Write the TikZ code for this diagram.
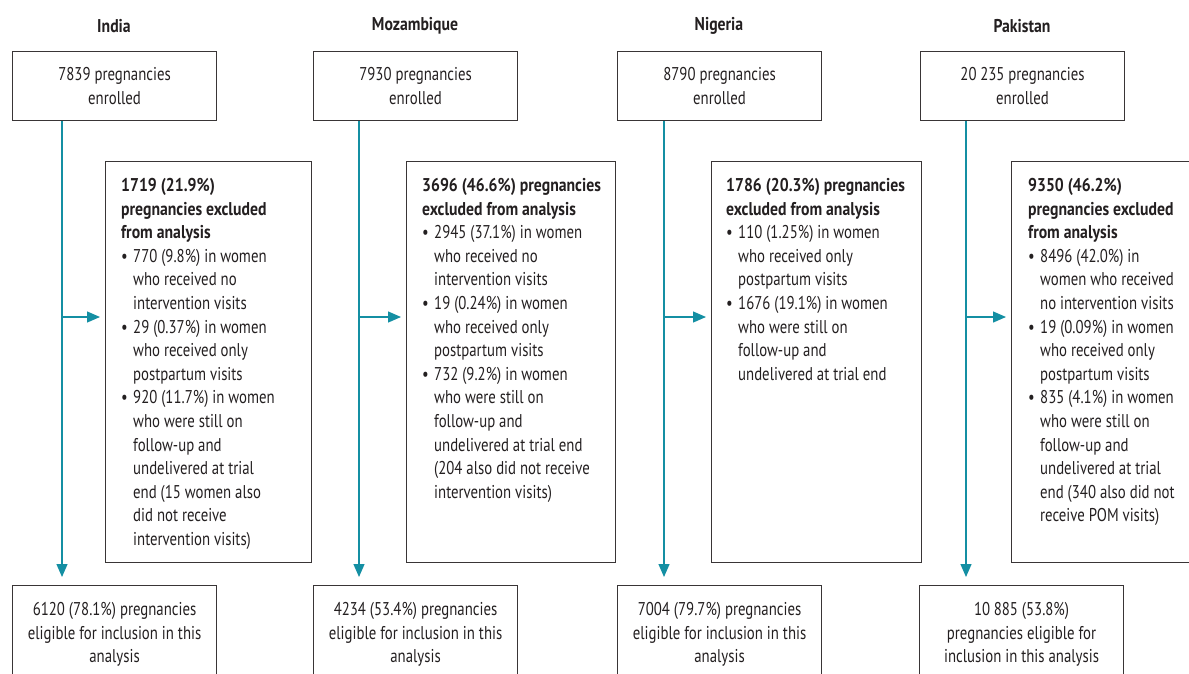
\documentclass[tikz,border=0pt]{standalone}
\usepackage{fontspec}
\setmainfont{PT Sans}[FakeStretch=0.80, BoldFeatures={FakeStretch=0.85}]
\usetikzlibrary{arrows.meta,calc}
\definecolor{teal1}{RGB}{20,143,163}
\definecolor{ink}{RGB}{35,31,32}
\newcommand{\mybul}{\makebox[12pt][l]{\textbullet}}
\newcommand{\myind}{\hspace*{12pt}}
\begin{document}
\begin{tikzpicture}[x=1pt,y=-1pt,
 box/.style={draw=ink!90, line width=1.1pt, inner sep=0pt, anchor=north west, text=ink, align=center, font=\fontsize{18.5}{23.4}\selectfont},
 extxt/.style={font=\fontsize{18.5}{23.6}\selectfont, text=ink, align=left, inner sep=0pt, anchor=north west},
 ttl/.style={font=\fontsize{18.5}{23.6}\selectfont\bfseries, text=ink},
 flow/.style={draw=teal1, line width=1.3pt, -{Triangle[length=13pt,width=11pt]}},
]
\useasboundingbox (0,0) rectangle (1189,673);

% titles
\node[ttl] (h1) at (114,26) {India};
\node[ttl] (h2) at (415,26) {Mozambique};
\node[ttl] (h3) at (719,26) {Nigeria};
\node[ttl] (h4) at (1022,26) {Pakistan};

% top boxes
\node[box, minimum width=204pt, minimum height=69pt] (t1) at (12,51) {7839 pregnancies\\enrolled};
\node[box, minimum width=204pt, minimum height=69pt] (t2) at (313,51) {7930 pregnancies\\enrolled};
\node[box, minimum width=204pt, minimum height=69pt] (t3) at (617,51) {8790 pregnancies\\enrolled};
\node[box, minimum width=204pt, minimum height=69pt] (t4) at (920,51) {20\hspace{0.2em}235 pregnancies\\enrolled};

% exclusion boxes
\node[box, minimum width=206pt, minimum height=401pt] (e1) at (105,161) {};
\node[box, minimum width=209pt, minimum height=401pt] (e2) at (406,161) {};
\node[box, minimum width=210pt, minimum height=401pt] (e3) at (711,161) {};
\node[box, minimum width=210pt, minimum height=401pt] (e4) at (1011,161) {};

\node[extxt] (x1) at (121,178) {\textbf{1719 (21.9\%)}\\
\textbf{pregnancies excluded}\\
\textbf{from analysis}\\
\mybul 770 (9.8\%) in women\\
\myind who received no\\
\myind intervention visits\\
\mybul 29 (0.37\%) in women\\
\myind who received only\\
\myind postpartum visits\\
\mybul 920 (11.7\%) in women\\
\myind who were still on\\
\myind follow-up and\\
\myind undelivered at trial\\
\myind end (15 women also\\
\myind did not receive\\
\myind intervention visits)};

\node[extxt] (x2) at (422,178) {\textbf{3696 (46.6\%) pregnancies}\\
\textbf{excluded from analysis}\\
\mybul 2945 (37.1\%) in women\\
\myind who received no\\
\myind intervention visits\\
\mybul 19 (0.24\%) in women\\
\myind who received only\\
\myind postpartum visits\\
\mybul 732 (9.2\%) in women\\
\myind who were still on\\
\myind follow-up and\\
\myind undelivered at trial end\\
\myind (204 also did not receive\\
\myind intervention visits)};

\node[extxt] (x3) at (726,178) {\textbf{1786 (20.3\%) pregnancies}\\
\textbf{excluded from analysis}\\
\mybul 110 (1.25\%) in women\\
\myind who received only\\
\myind postpartum visits\\
\mybul 1676 (19.1\%) in women\\
\myind who were still on\\
\myind follow-up and\\
\myind undelivered at trial end};

\node[extxt] (x4) at (1028,178) {\textbf{9350 (46.2\%)}\\
\textbf{pregnancies excluded}\\
\textbf{from analysis}\\
\mybul 8496 (42.0\%) in\\
\myind women who received\\
\myind no intervention visits\\
\mybul 19 (0.09\%) in women\\
\myind who received only\\
\myind postpartum visits\\
\mybul 835 (4.1\%) in women\\
\myind who were still on\\
\myind follow-up and\\
\myind undelivered at trial\\
\myind end (340 also did not\\
\myind receive POM visits)};

% bottom boxes
\node[box, minimum width=204pt, minimum height=98pt] (b1) at (12,585) {6120 (78.1\%) pregnancies\\eligible for inclusion in this\\analysis};
\node[box, minimum width=204pt, minimum height=98pt] (b2) at (313,585) {4234 (53.4\%) pregnancies\\eligible for inclusion in this\\analysis};
\node[box, minimum width=204pt, minimum height=98pt] (b3) at (617,585) {7004 (79.7\%) pregnancies\\eligible for inclusion in this\\analysis};
\node[box, minimum width=204pt, minimum height=98pt] (b4) at (919,585) {10\hspace{0.2em}885 (53.8\%)\\pregnancies eligible for\\inclusion in this analysis};

% junctions
\coordinate (j1) at (62,317);
\coordinate (j2) at (359,317);
\coordinate (j3) at (664,317);
\coordinate (j4) at (966,317);

\foreach \i in {1,2,3,4}{
  \draw[flow, shorten >=8pt] (t\i.south -| j\i) -- (b\i.north -| j\i);
  \draw[flow, shorten >=5pt] (j\i) -- (j\i -| e\i.west);
}
\end{tikzpicture}
\end{document}
